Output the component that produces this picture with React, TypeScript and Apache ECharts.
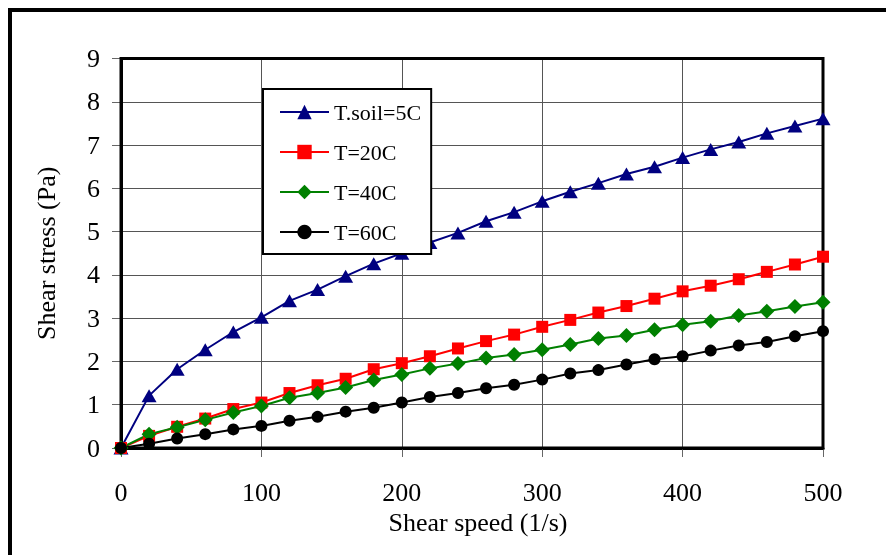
import React, { useEffect, useRef } from "react";
import * as echarts from "echarts";

// Shear speed (1/s)
const speed = [0, 20, 40, 60, 80, 100, 120, 140, 160, 180, 200, 220, 240, 260, 280, 300, 320, 340, 360, 380, 400, 420, 440, 460, 480, 500];

// Shear stress (Pa) per temperature
const soil5C = [0, 1.21, 1.82, 2.27, 2.68, 3.02, 3.4, 3.66, 3.97, 4.26, 4.5, 4.75, 4.97, 5.24, 5.45, 5.7, 5.92, 6.12, 6.33, 6.5, 6.71, 6.9, 7.07, 7.27, 7.44, 7.61];
const t20C = [0, 0.28, 0.49, 0.68, 0.9, 1.05, 1.27, 1.45, 1.6, 1.82, 1.96, 2.12, 2.3, 2.47, 2.62, 2.8, 2.96, 3.13, 3.28, 3.45, 3.62, 3.75, 3.9, 4.07, 4.24, 4.42];
const t40C = [0, 0.32, 0.48, 0.65, 0.82, 0.97, 1.16, 1.27, 1.4, 1.57, 1.7, 1.84, 1.95, 2.08, 2.16, 2.27, 2.39, 2.53, 2.6, 2.73, 2.85, 2.93, 3.06, 3.16, 3.27, 3.37];
const t60C = [0, 0.1, 0.22, 0.32, 0.43, 0.51, 0.63, 0.72, 0.84, 0.93, 1.05, 1.18, 1.27, 1.38, 1.46, 1.58, 1.72, 1.8, 1.93, 2.05, 2.12, 2.25, 2.37, 2.45, 2.58, 2.7];

const seriesNames = ["T.soil=5C", "T=20C", "T=40C", "T=60C"];

const FONT = "Liberation Serif";

const GRID = { left: 121, top: 58.5, right: 63, bottom: 107 };
const W = 886;
const H = 555;

function pairs(ys: number[]) {
  return speed.map((x, i) => [x, ys[i]]);
}

export default function App() {
  const ref = useRef<HTMLDivElement>(null);

  useEffect(() => {
    if (!ref.current) return;
    const chart = echarts.init(ref.current, null, { renderer: "svg" });

    const mk = (name: string, data: number[], color: string, symbol: string, size: any) => ({
      name,
      type: "line",
      data: pairs(data),
      symbol,
      symbolSize: size,
      showAllSymbol: true,
      lineStyle: { color, width: 2 },
      itemStyle: { color },
      emphasis: { disabled: true },
    });

    chart.setOption({
      animation: false,
      grid: { ...GRID },
      legend: {
        orient: "vertical",
        left: 263,
        top: 89,
        data: seriesNames,
        itemWidth: 49,
        itemHeight: 18,
        itemGap: 18,
        padding: [12, 10, 11, 16],
        backgroundColor: "#fff",
        borderColor: "#000",
        borderWidth: 2,
        borderRadius: 0,
        textStyle: { fontFamily: FONT, fontSize: 22, color: "#000" },
      },
      xAxis: {
        type: "value",
        min: 0,
        max: 500,
        interval: 100,
        name: "Shear speed (1/s)",
        nameLocation: "middle",
        nameGap: 61,
        nameTextStyle: { fontFamily: "Times New Roman", fontSize: 26, color: "#000", padding: [0, 0, 0, 12] },
        axisLine: { show: true, lineStyle: { color: "#000", width: 3 } },
        axisTick: { show: true, length: 9, lineStyle: { color: "#666", width: 1 } },
        axisLabel: { fontFamily: "serif", fontSize: 26, color: "#000", margin: 31 },
        splitLine: { show: true, lineStyle: { color: "#555", width: 1 } },
      },
      yAxis: {
        type: "value",
        min: 0,
        max: 9,
        interval: 1,
        name: "Shear stress (Pa)",
        nameLocation: "middle",
        nameGap: 62,
        nameTextStyle: { fontFamily: FONT, fontSize: 26, color: "#000" },
        axisLine: { show: true, lineStyle: { color: "#000", width: 3 } },
        axisTick: { show: true, length: 9, lineStyle: { color: "#666", width: 1 } },
        axisLabel: { textStyle: { fontFamily: FONT }, fontSize: 26, color: "#000", margin: 21 },
        splitLine: { show: true, lineStyle: { color: "#555", width: 1 } },
      },
      graphic: [
        {
          type: "rect",
          z: 1,
          silent: true,
          shape: {
            x: GRID.left,
            y: GRID.top,
            width: W - GRID.left - GRID.right,
            height: H - GRID.top - GRID.bottom,
          },
          style: { fill: "none", stroke: "#000", lineWidth: 3 },
        },
        {
          type: "rect",
          z: 1,
          silent: true,
          shape: { x: 10, y: 10, width: 900, height: 600 },
          style: { fill: "none", stroke: "#000", lineWidth: 4 },
        },
      ],
      series: [
        mk(seriesNames[0], soil5C, "#000080", "triangle", [15, 13]),
        mk(seriesNames[1], t20C, "#ff0000", "rect", 12),
        mk(seriesNames[2], t40C, "#008000", "diamond", [15, 15]),
        mk(seriesNames[3], t60C, "#000000", "circle", 12),
      ],
    });

    return () => chart.dispose();
  }, []);

  return <div ref={ref} style={{ position: "fixed", left: 0, top: 0, width: W, height: H }} />;
}
